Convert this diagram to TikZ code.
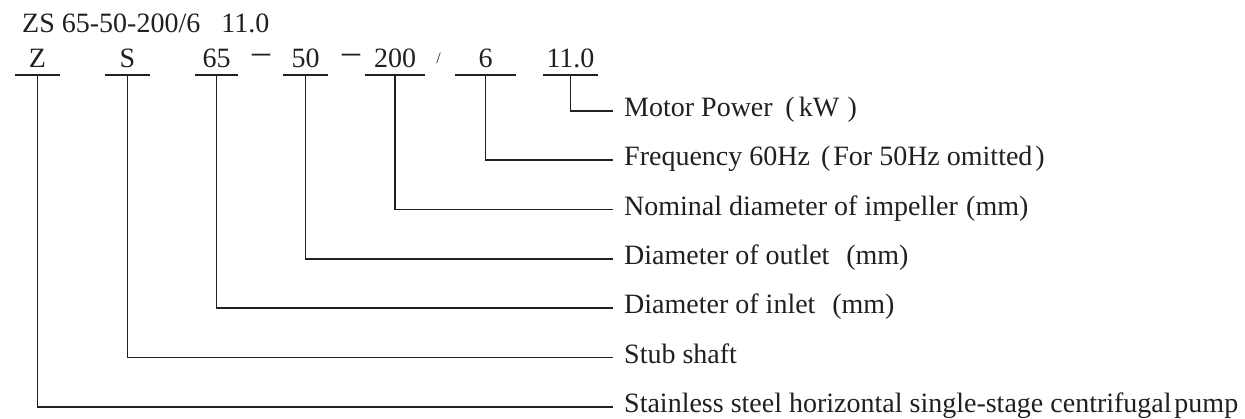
\documentclass[tikz,border=0pt]{standalone}
\usepackage{fontspec}
\setmainfont{Liberation Serif}
\definecolor{ink}{HTML}{231F20}
\begin{document}
\begin{tikzpicture}[x=1pt,y=1pt,
  txt/.style={text=ink, inner sep=0pt, font=\fontsize{28}{31}\selectfont},
  codebox/.style={txt, anchor=south, text depth=7pt},
  lbl/.style={txt, anchor=west, inner xsep=11pt, inner ysep=0pt, text height=12pt, text depth=0pt},
  lead/.style={draw=ink, line width=1.6pt},
  sep/.style={txt, font=\fontsize{36}{36}\selectfont}]
\useasboundingbox (0,0) rectangle (1245,-419);
\node[txt, anchor=base west] (title) at (22,-33) {ZS 65-50-200/6\hspace{0.75em}11.0};
% code parts
\node[codebox, minimum width=45pt] (cz) at (37.5,-75) {Z};
\node[codebox, minimum width=45pt] (cs) at (127.5,-75) {S};
\node[codebox, minimum width=43pt] (c65) at (216.5,-75) {65};
\node[codebox, minimum width=45pt] (c50) at (305.5,-75) {50};
\node[codebox, minimum width=60pt] (c200) at (395,-75) {200};
\node[codebox, minimum width=60pt] (c6) at (485.5,-75) {6};
\node[codebox, minimum width=55pt] (c11) at (570.5,-75) {11.0};
\node[sep] (d1) at (261,-59) {–};
\node[sep] (d2) at (351,-59) {–};
\node[txt, font=\fontsize{16}{16}\selectfont] (sl) at (438.5,-58.5) {/};
% labels
\node[lbl] (lp) at (613,-111) {Motor Power\hspace{0.45em}(\hspace{0.15em}kW\hspace{0.3em})};
\node[lbl] (lf) at (613,-160) {Frequency 60Hz\hspace{0.4em}(\hspace{0.1em}For 50Hz omitted\hspace{0.1em})};
\node[lbl] (ln) at (613,-209.5) {Nominal diameter of impeller\hspace{0.3em}(mm)};
\node[lbl] (lo) at (613,-259) {Diameter of outlet\hspace{0.6em}(mm)};
\node[lbl] (li) at (613,-308) {Diameter of inlet\hspace{0.6em}(mm)};
\node[lbl] (ls) at (613,-357.5) {Stub shaft};
\node[lbl] (lz) at (613,-407) {Stainless steel horizontal single-stage centrifugal\hspace{0.1em}pump};
% underlines
\foreach \n in {cz,cs,c65,c50,c200,c6,c11}
  \draw[lead] (\n.south west) -- (\n.south east);
% leaders
\draw[lead] (c11.south) |- (lp.west);
\draw[lead] (c6.south) |- (lf.west);
\draw[lead] (c200.south) |- (ln.west);
\draw[lead] (c50.south) |- (lo.west);
\draw[lead] (c65.south) |- (li.west);
\draw[lead] (cs.south) |- (ls.west);
\draw[lead] (cz.south) |- (lz.west);
\end{tikzpicture}
\end{document}
